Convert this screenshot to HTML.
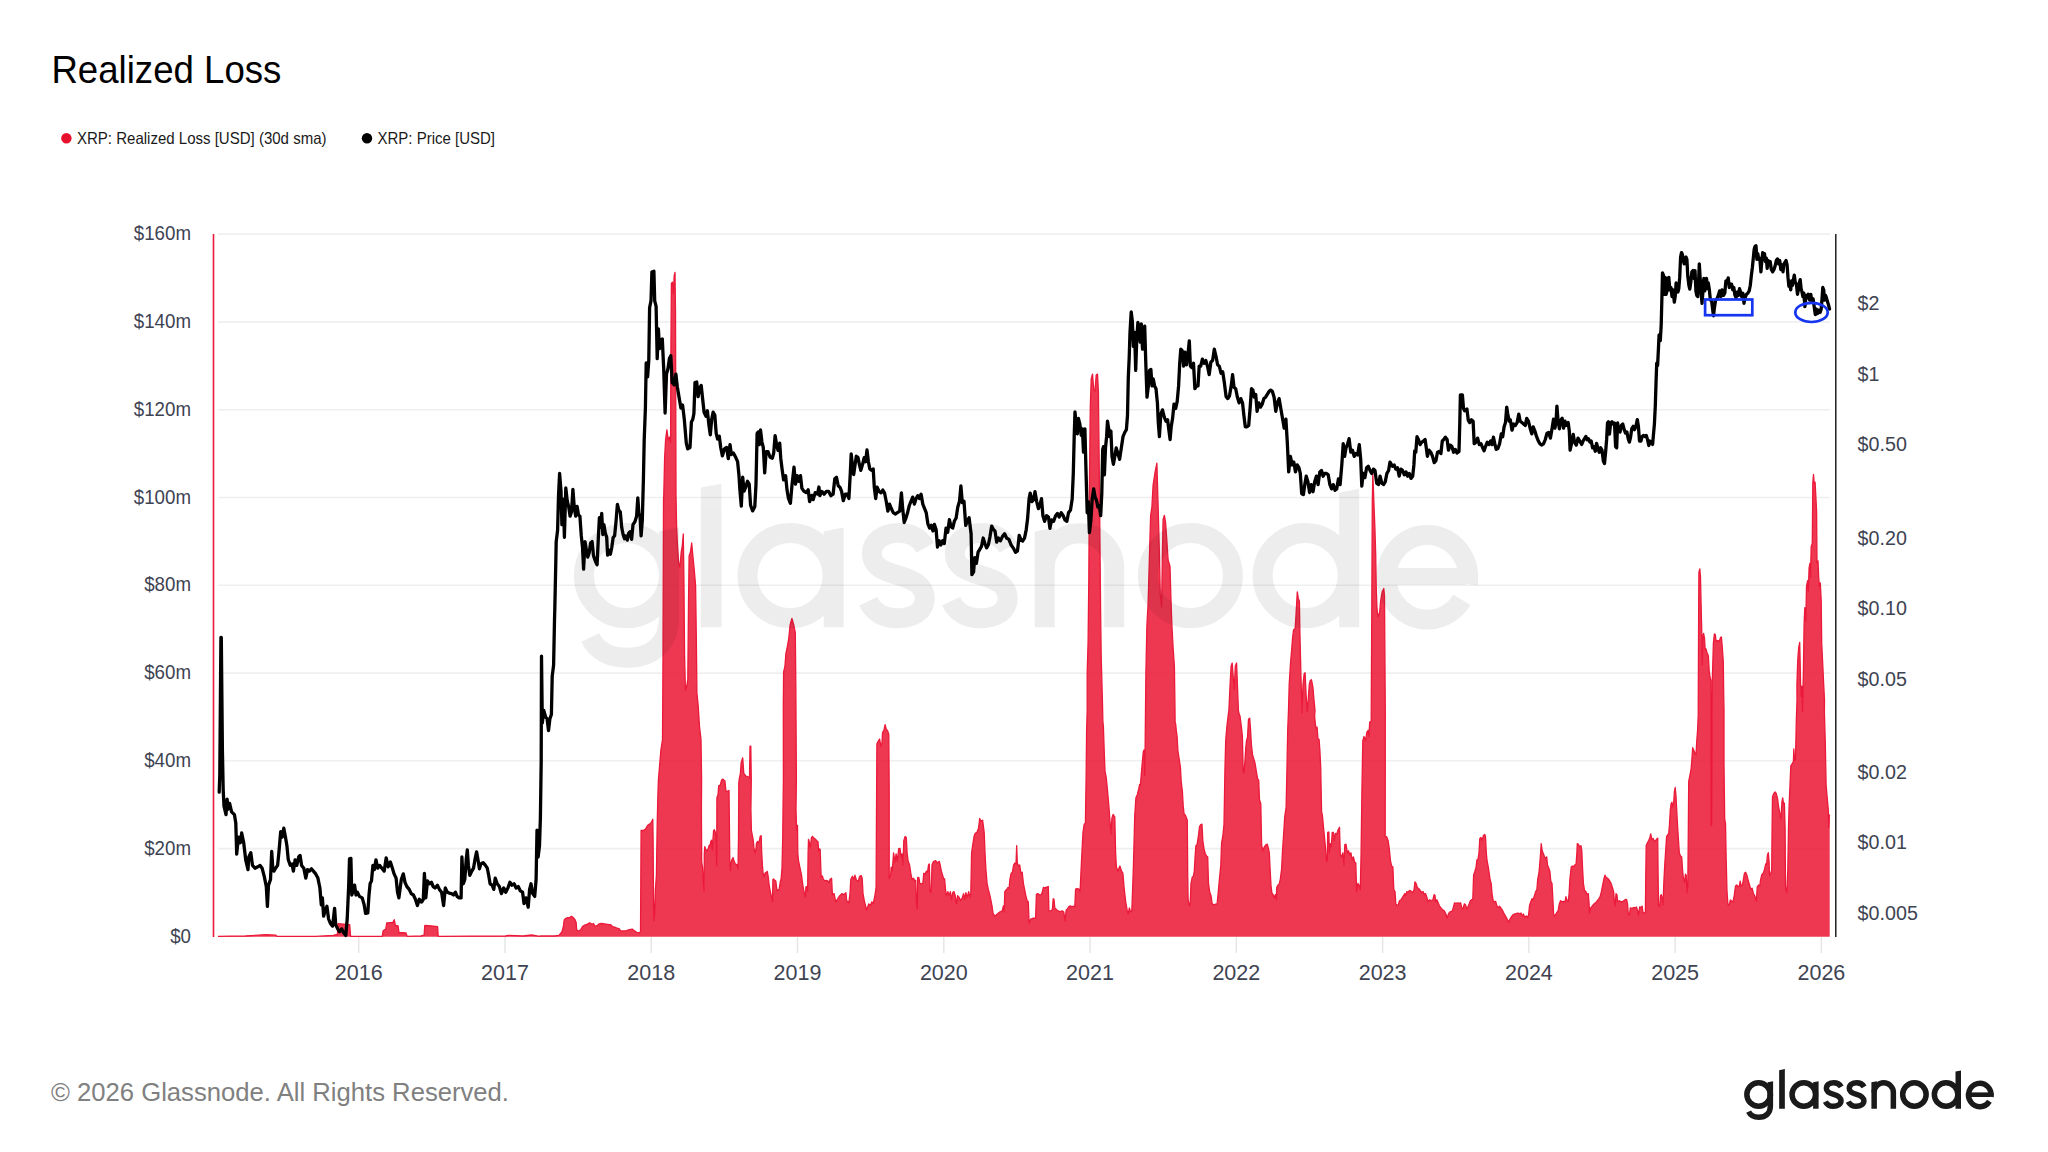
<!DOCTYPE html>
<html><head><meta charset="utf-8"><title>Realized Loss</title>
<style>
html,body{margin:0;padding:0;background:#fff;}
body{width:2048px;height:1152px;overflow:hidden;position:relative;font-family:"Liberation Sans",sans-serif;}
svg{position:absolute;left:0;top:0;}
text{font-family:"Liberation Sans",sans-serif;}
.ax text{font-size:20px;fill:#3e4352;}
.ax text.r{letter-spacing:0.3px;}
.ax text.l{letter-spacing:0.15px;}
.ax text.xl{font-size:21.5px;}
</style></head><body>
<svg width="2048" height="1152" viewBox="0 0 2048 1152">
<defs><g id="gl">
<g fill="none" stroke-width="5.5">
<circle cx="1758.6" cy="1094.5" r="11.75"/>
<path d="M1770.35,1094L1770.35,1106C1770.35,1113.5 1765.5,1117.2 1758.8,1117.2C1753.8,1117.2 1750.3,1115.2 1748.6,1111.6"/>
<circle cx="1803.8" cy="1094.5" r="11.75"/>
<path d="M1841.2,1086.8C1839.5,1083.8 1836.8,1082.7 1833.8,1082.7C1829.5,1082.7 1826.4,1085 1826.4,1088.4C1826.4,1092 1829.5,1093.2 1833.6,1094.4C1838,1095.7 1841,1097.2 1841,1100.8C1841,1104.3 1837.8,1106.3 1833.4,1106.3C1829.6,1106.3 1826.8,1104.6 1825.4,1101.6"/>
<path d="M1841.2,1086.8C1839.5,1083.8 1836.8,1082.7 1833.8,1082.7C1829.5,1082.7 1826.4,1085 1826.4,1088.4C1826.4,1092 1829.5,1093.2 1833.6,1094.4C1838,1095.7 1841,1097.2 1841,1100.8C1841,1104.3 1837.8,1106.3 1833.4,1106.3C1829.6,1106.3 1826.8,1104.6 1825.4,1101.6" transform="translate(22.9,0)"/>
<path d="M1874.15,1092.4A9.6,9.6 0 0 1 1893.35,1092.4V1108.8"/>
<circle cx="1914.4" cy="1094.5" r="11.75"/>
<circle cx="1946.1" cy="1094.5" r="11.75"/>
<path d="M1968.3,1094.7H1990.5" stroke-width="4.6"/>
<path d="M1991.0,1096.8A11.3,11.7 0 1 0 1989.4,1101.2"/>
</g>
<g stroke="none">
<path d="M1767.6,1082.3L1773.1,1081.2V1096H1767.6Z"/>
<path d="M1779.15,1070.2L1784.85,1069.1V1108.8H1779.15Z"/>
<path d="M1813.1,1082.3L1818.6,1081.2V1108.8H1813.1Z"/>
<path d="M1871.4,1082.3L1876.9,1081.2V1108.8H1871.4Z"/>
<path d="M1955.5,1071.6L1961,1070.5V1108.8H1955.5Z"/>
</g>
</g></defs>
<text x="51.4" y="83.3" font-size="39.5" fill="#000" textLength="230" lengthAdjust="spacingAndGlyphs">Realized Loss</text>
<circle cx="66.4" cy="138.3" r="5.2" fill="#e8112d"/>
<text x="77" y="144.2" font-size="16.5" fill="#1a1a1a" textLength="249.5" lengthAdjust="spacingAndGlyphs">XRP: Realized Loss [USD] (30d sma)</text>
<circle cx="367" cy="138.3" r="5.2" fill="#000"/>
<text x="377.5" y="144.2" font-size="16.5" fill="#1a1a1a" textLength="117.5" lengthAdjust="spacingAndGlyphs">XRP: Price [USD]</text>
<g stroke="#efefef" stroke-width="1.6"><line x1="218" x2="1830" y1="234.1" y2="234.1"/><line x1="218" x2="1830" y1="321.9" y2="321.9"/><line x1="218" x2="1830" y1="409.7" y2="409.7"/><line x1="218" x2="1830" y1="497.5" y2="497.5"/><line x1="218" x2="1830" y1="585.3" y2="585.3"/><line x1="218" x2="1830" y1="673.1" y2="673.1"/><line x1="218" x2="1830" y1="760.8" y2="760.8"/><line x1="218" x2="1830" y1="848.6" y2="848.6"/></g>
<g class="ax"><text transform="translate(191,240.2) scale(0.935,1)" text-anchor="end">$160m</text><text transform="translate(191,328.0) scale(0.935,1)" text-anchor="end">$140m</text><text transform="translate(191,415.8) scale(0.935,1)" text-anchor="end">$120m</text><text transform="translate(191,503.6) scale(0.935,1)" text-anchor="end">$100m</text><text transform="translate(191,591.4) scale(0.935,1)" text-anchor="end">$80m</text><text transform="translate(191,679.2) scale(0.935,1)" text-anchor="end">$60m</text><text transform="translate(191,766.9) scale(0.935,1)" text-anchor="end">$40m</text><text transform="translate(191,854.7) scale(0.935,1)" text-anchor="end">$20m</text><text transform="translate(191,942.5) scale(0.935,1)" text-anchor="end">$0</text><text transform="translate(1857.6,310.4) scale(0.985,1)">$2</text><text transform="translate(1857.6,381.0) scale(0.985,1)">$1</text><text transform="translate(1857.6,451.4) scale(0.985,1)">$0.50</text><text transform="translate(1857.6,544.6) scale(0.985,1)">$0.20</text><text transform="translate(1857.6,615.0) scale(0.985,1)">$0.10</text><text transform="translate(1857.6,685.5) scale(0.985,1)">$0.05</text><text transform="translate(1857.6,778.6) scale(0.985,1)">$0.02</text><text transform="translate(1857.6,849.0) scale(0.985,1)">$0.01</text><text transform="translate(1857.6,919.5) scale(0.985,1)">$0.005</text><line x1="358.7" x2="358.7" y1="937" y2="953" stroke="#e6e6e6" stroke-width="1.5"/><text x="358.7" y="979.5" text-anchor="middle" class="xl">2016</text><line x1="505.0" x2="505.0" y1="937" y2="953" stroke="#e6e6e6" stroke-width="1.5"/><text x="505.0" y="979.5" text-anchor="middle" class="xl">2017</text><line x1="651.2" x2="651.2" y1="937" y2="953" stroke="#e6e6e6" stroke-width="1.5"/><text x="651.2" y="979.5" text-anchor="middle" class="xl">2018</text><line x1="797.5" x2="797.5" y1="937" y2="953" stroke="#e6e6e6" stroke-width="1.5"/><text x="797.5" y="979.5" text-anchor="middle" class="xl">2019</text><line x1="943.8" x2="943.8" y1="937" y2="953" stroke="#e6e6e6" stroke-width="1.5"/><text x="943.8" y="979.5" text-anchor="middle" class="xl">2020</text><line x1="1090.0" x2="1090.0" y1="937" y2="953" stroke="#e6e6e6" stroke-width="1.5"/><text x="1090.0" y="979.5" text-anchor="middle" class="xl">2021</text><line x1="1236.3" x2="1236.3" y1="937" y2="953" stroke="#e6e6e6" stroke-width="1.5"/><text x="1236.3" y="979.5" text-anchor="middle" class="xl">2022</text><line x1="1382.6" x2="1382.6" y1="937" y2="953" stroke="#e6e6e6" stroke-width="1.5"/><text x="1382.6" y="979.5" text-anchor="middle" class="xl">2023</text><line x1="1528.9" x2="1528.9" y1="937" y2="953" stroke="#e6e6e6" stroke-width="1.5"/><text x="1528.9" y="979.5" text-anchor="middle" class="xl">2024</text><line x1="1675.1" x2="1675.1" y1="937" y2="953" stroke="#e6e6e6" stroke-width="1.5"/><text x="1675.1" y="979.5" text-anchor="middle" class="xl">2025</text><line x1="1821.4" x2="1821.4" y1="937" y2="953" stroke="#e6e6e6" stroke-width="1.5"/><text x="1821.4" y="979.5" text-anchor="middle" class="xl">2026</text></g>
<path d="M217.9,936.8 L217.9,936.4 L245.2,936 L266.2,934.6 L275.9,935.2 L276.8,936.4 L315.5,936.4 L333,935.3 L337.4,934.5 L338,923.7 L349.7,924.6 L350.6,936.4 L382.3,936.4 L383.1,930.8 L385.8,929 L386.7,922.9 L392.8,922.5 L394.2,919.7 L395.4,925.5 L398.1,926 L399,932.5 L406,933 L407.2,936.4 L420.9,936 L424.1,935.2 L424.8,925.5 L431.5,926 L437.6,926.7 L438.2,936.4 L505.3,936 L508.8,935.3 L522.9,936 L531.7,935 L539.6,936.4 L540,936 L554.6,936 L559,935.3 L562,931.6 L563.4,926.5 L564.2,919.9 L565.6,918.4 L567.8,917.7 L569.3,917.7 L571.5,916.2 L573.4,917.7 L575.2,919.9 L576.2,922.8 L576.6,929.4 L577.8,930.9 L579.5,930.6 L581,929.4 L582.5,926.5 L584.7,925 L586.9,924.3 L589.8,922.8 L592,924.3 L593.5,923.5 L594.9,926.2 L597.1,925.7 L599.3,923.8 L601.5,923.5 L604.4,923.8 L607.4,924.3 L611,925 L612.5,926.5 L614.7,927.2 L616.9,928.2 L619.1,928.7 L620.6,930.9 L623.5,930.9 L626.4,930.6 L629.4,929.7 L632.3,929.1 L634.5,930.9 L636.7,932.3 L639.6,932.6 L640.5,931.6 L640.8,882.5 L641.1,830.5 L643.3,830.5 L645.5,829.1 L647.7,825.4 L649.9,823.9 L651.3,822.5 L652.8,819.3 L653.1,838.6 L653.5,897.2 L653.8,920.6 L654.5,916.2 L655.4,889.9 L656.4,875.2 L657.2,823.9 L657.9,794.6 L658.4,780 L660.9,750 L662.5,739.6 L663,656.2 L663.5,500 L663.8,494.4 L664.6,457.9 L665.6,439.7 L666.9,429.8 L668.2,439.7 L669.5,437.1 L670.6,442.3 L670.8,364.2 L671.4,283.4 L672.4,282.1 L673.4,293.9 L674.2,275.6 L675,272.5 L675.5,312.1 L675.8,416.2 L676,494.4 L676.6,526 L677.3,541.7 L678.6,562.5 L679.9,567.7 L681.2,552.1 L682.3,545.6 L683.3,533.9 L683.9,578.1 L684.6,656.2 L685.4,690.1 L686.5,687.5 L687.8,679.7 L688.5,604.2 L689.1,556 L690.4,552.1 L691.7,543 L693,557.3 L694.3,570.3 L695.6,585.9 L696.4,643.2 L696.9,692.7 L698.2,705.7 L699.5,726.6 L701,739.6 L701.6,779.9 L701.4,809.3 L701.7,862 L702.6,867.9 L703.3,882.5 L704.1,891.3 L704.3,853.2 L704.8,846.6 L705.5,848.8 L707,851 L708.2,848.8 L709.2,845.2 L709.9,846.6 L710.6,842.3 L711.4,840.1 L712.3,850.3 L712.8,841.5 L713.6,830.5 L714.3,829.8 L715.3,832 L716.2,841.5 L716.7,865.7 L716.9,797.6 L718,794.6 L718.7,785.9 L720.2,785.1 L721.6,780 L722.7,779.1 L723.8,780 L724.9,780.7 L726,791.7 L727.5,791 L729,790.5 L729.4,823.9 L729.8,862 L730.4,870.8 L731.2,862 L731.9,859.8 L733.1,857.6 L734.1,861.3 L735.5,864.2 L737,864.7 L738,868.6 L738.5,838.6 L738.8,782.9 L739.3,778.6 L740.4,773.4 L741.1,763 L742.7,757.8 L743.8,773.4 L745.8,776 L747.9,776.6 L749.5,778.1 L750,746.1 L750.8,746.1 L751.3,779.9 L750.9,809.3 L751.4,830.5 L752.4,835.7 L753.1,839.3 L753.9,847.4 L755,853.2 L755.8,850.3 L756.5,843 L757.5,841.5 L758.3,843 L759.3,840.8 L760.2,836.4 L761.2,835.7 L761.6,850.3 L762.4,865 L763.1,873.7 L764.1,876.7 L765.1,873 L766.3,872.3 L767.3,871.5 L768.2,876.7 L769.2,885.5 L770.3,891.3 L771.4,896.4 L772.5,901.6 L772.9,879.6 L773.6,878.9 L774.8,880.3 L775.8,881.1 L777,890.6 L778,889.9 L779.1,889.6 L780.2,882.5 L781.2,878.1 L782,867.9 L782.7,838.6 L783.2,794.6 L783.4,780 L783.3,708.3 L783.6,671.9 L784.9,666.7 L785.9,653.6 L787.5,645.8 L788.8,638 L790.1,625 L791.9,618.5 L793.8,625 L795.3,632.8 L795.8,682.3 L796.4,779.9 L796,809.3 L796.6,830.5 L797.5,825.4 L797.8,853.2 L798.5,860.6 L800,867.9 L801.5,875.2 L802.9,885.5 L804.4,893.5 L805.4,897.2 L805.9,886.9 L806.9,886.6 L807.6,891.3 L808.1,853.2 L808.5,839.3 L809.2,841.5 L810,848.1 L810.7,844.4 L811.4,837.9 L812.4,836.4 L813.9,837.9 L815.4,839.3 L816.8,840.8 L818,841.5 L818.6,851 L819.5,848.8 L820.2,849.6 L820.8,867.9 L821.2,877.4 L822.4,875.9 L823.4,879.6 L824.9,880.8 L826.4,880.3 L827.8,881.1 L829.3,882.5 L830,879.3 L831.6,878.3 L832.4,894.6 L834.1,893.6 L835.7,901.8 L837.8,898.7 L839.8,895.6 L841.8,893.6 L843.9,894.6 L845.9,892.6 L846.7,900.7 L848.8,902.8 L850,893.6 L850.8,879.3 L852.4,876.3 L854.1,879.3 L854.9,875.2 L856.5,880.3 L858.2,881.4 L859.6,876.3 L861.2,875.6 L862.2,878.3 L863,893.6 L864.7,902.8 L866.7,909.9 L868.8,903.8 L870.4,905.8 L871.8,901.8 L873.2,903.8 L874.9,895.6 L876.1,887.5 L876.5,812 L876.9,743.7 L878.6,740.6 L879.6,739 L881,746.7 L882,742.6 L882.6,732.4 L883.9,730.4 L885.1,724.7 L886.3,729.4 L887.5,730.4 L888.8,734.5 L889.2,791.6 L889.2,878.3 L890.6,875.2 L891.2,867.1 L892.2,871.2 L893.6,852.8 L894.9,862 L896.1,853.8 L897.3,861 L898.7,848.7 L900,848.3 L901,856.9 L902,853.8 L903,865 L903.8,840.6 L905.1,836.5 L906.3,837.5 L907.1,852.8 L908.1,861 L909.6,865 L910.8,873.2 L912,879.3 L913.6,878.3 L914.9,881.4 L915.7,880.3 L916.5,903.8 L917.3,908.9 L917.7,877.3 L918.9,877.7 L919.8,883.4 L921.4,883.8 L922.8,883.4 L923.8,873.2 L925.1,874.2 L926.3,871.2 L927.5,872.2 L928.5,865 L929.3,864 L930,891.6 L931.2,892.6 L932,865 L933.2,862 L934.4,861 L935.7,860.6 L936.9,863 L938.1,862 L939.3,861.4 L940.2,865 L941.4,871.2 L942.6,875.2 L943.8,879.3 L944.6,878.9 L945.5,889.5 L946.3,895.6 L947.9,891.6 L949.1,895.6 L950.4,891.6 L951.6,899.7 L952.8,892.6 L954,891.6 L955.3,895.6 L956.5,903.8 L957.7,895.6 L959.3,897.7 L960.6,900.7 L962.2,897.7 L963.6,893.6 L964.6,899.7 L965.9,892.6 L967.1,897.7 L968.7,891.6 L969.9,897.7 L970.8,893.6 L971.6,852.8 L972.8,844.6 L974,836.5 L975.2,833.4 L976.9,832.4 L978.5,828.3 L979.7,818.5 L981,821.2 L982.6,820.2 L983.4,826.3 L984.2,832.4 L985,852.8 L985.9,869.1 L987.1,883.4 L988.3,889.5 L989.5,893.6 L990.8,899.7 L992,905.8 L993.2,914 L995.2,916 L997.3,914 L999.7,912 L1002.2,910.9 L1003.4,905.8 L1004.2,912 L1004.8,891.6 L1006.5,889.5 L1007.9,887.5 L1009.1,888.5 L1009.9,879.3 L1011.2,873.2 L1012.4,872.2 L1013.6,865 L1014.8,863 L1016,864 L1016.7,845.7 L1017.3,863 L1018.5,866.1 L1019.7,865 L1020.9,873.2 L1022.2,872.2 L1023.4,883.4 L1024.6,889.5 L1025.8,895.6 L1027.1,900.7 L1028.3,901.8 L1029.1,923.2 L1030.7,919.1 L1032.4,918.5 L1034,918.1 L1035.6,918.1 L1036.4,894.6 L1037.7,893.6 L1039.3,894.6 L1040.9,895.2 L1042.2,892.6 L1043.4,887.5 L1045,887.9 L1046.6,887.1 L1048.3,886.5 L1048.9,910.9 L1050.7,910.9 L1052.4,909.9 L1053.2,898.7 L1054,899.3 L1054.8,907.9 L1056.4,909.5 L1058.1,910.9 L1060.1,911.6 L1062.2,910.9 L1063.8,912 L1065,921.1 L1066.2,909.9 L1067.5,908.9 L1068.7,906.9 L1070.3,905.8 L1071.9,906.9 L1073.6,906.2 L1074.8,906.9 L1075.6,889.1 L1077.2,888.5 L1078.9,889.1 L1080.1,891.6 L1080.9,873.2 L1082.1,848.7 L1083,832.4 L1084.2,824.2 L1085.4,823.2 L1086.2,771.2 L1086.6,730.4 L1087.2,710 L1087.2,672.5 L1088.1,641.2 L1088.8,578.8 L1089.4,485 L1090.3,406.9 L1091.2,378.8 L1092.5,374.1 L1093.8,389.7 L1095,391.2 L1096.2,375 L1097.5,374.1 L1098.4,391.2 L1099.1,453.8 L1100,547.5 L1100.6,610 L1101.2,656.9 L1102.5,703.8 L1102.9,722.2 L1103.4,726.3 L1104.2,750.8 L1105,771.2 L1106.2,777.3 L1107.4,789.6 L1108.7,803.8 L1109.9,820.2 L1111.1,834 L1111.9,818.1 L1113.1,814.4 L1114.8,817.1 L1115.6,852.8 L1116.4,867.1 L1118,871.2 L1119.7,866.1 L1120,866.1 L1121.6,871.2 L1122.9,873.2 L1124.1,887.5 L1125.7,901.8 L1127.3,910.9 L1128.2,914 L1129.4,907.9 L1130.6,912 L1131.8,910.9 L1132.6,889.5 L1133.5,863 L1134.3,832.4 L1134.7,816.1 L1135.9,797.7 L1137.3,794.7 L1138.8,788.5 L1139.6,784.5 L1140.4,785.5 L1141.2,775.3 L1142.4,761 L1143.3,751.8 L1144.1,749.8 L1144.7,775.3 L1145.1,750.8 L1145.5,710 L1145.9,672.5 L1146.9,625.6 L1148.1,603.8 L1149.7,547.5 L1150.6,516.2 L1151.9,506.9 L1153.1,485 L1155,472.5 L1156.9,463.1 L1157.5,485 L1158.4,516.2 L1159.4,553.8 L1160.3,594.4 L1161.6,606.9 L1162.5,547.5 L1163.1,519.4 L1164.4,515.3 L1165.6,522.5 L1166.9,541.2 L1168.1,560 L1170,566.2 L1170.9,597.5 L1171.9,625.6 L1173.1,647.5 L1174.4,666.2 L1175,710 L1175.1,722.2 L1175.7,724.3 L1176.3,730.4 L1177.1,736.5 L1177.9,750.8 L1179.2,759 L1180.4,767.1 L1181.2,781.4 L1182.4,791.6 L1183.2,805.9 L1184.1,814 L1185.3,815.1 L1186.5,818.1 L1187.3,820.2 L1187.7,873.2 L1188.1,899.7 L1189.4,905.8 L1190.2,903.8 L1191,883.4 L1192.2,877.3 L1193.4,876.3 L1194.3,871.2 L1195.1,856.9 L1195.9,845.7 L1197.1,844.6 L1198.3,836.5 L1199.6,826.3 L1200.8,824.6 L1202,824.2 L1202.8,840.6 L1204,848.7 L1205.3,853.8 L1206.5,855.9 L1207.7,856.9 L1208.5,883.4 L1209.8,892.6 L1211,895.6 L1212.2,903.8 L1213.8,904.8 L1215.5,904.2 L1217.1,903.8 L1218.3,891.6 L1219.6,877.3 L1220.8,865 L1221.6,842.6 L1222.8,836.5 L1224,824.2 L1224.9,771.2 L1225.7,740.6 L1226.9,726.3 L1228.1,716.1 L1228.9,710 L1230.1,684.4 L1231.1,666.1 L1232.2,663 L1233.2,676.6 L1234.3,689.6 L1235.3,666.1 L1236.6,663 L1237.4,684.4 L1238.4,710.4 L1239.1,714.1 L1240,716.1 L1240.8,722.2 L1241.6,728.4 L1242.4,736.5 L1243.2,771.2 L1244,773.2 L1244.8,763 L1245.7,748.8 L1246.5,740.6 L1247.5,737.5 L1248.5,719.2 L1249.7,718.2 L1250.6,730.4 L1251.4,744.7 L1252.6,754.9 L1253.8,759 L1255,763 L1256.3,771.2 L1257.5,778.3 L1258.7,780.4 L1259.5,799.8 L1260.8,803.8 L1261.6,844.6 L1262.8,850.8 L1264.4,846.7 L1266.1,844.6 L1267.3,844.2 L1268.5,848.7 L1269.3,852.8 L1270.1,869.1 L1271,885.4 L1271.8,892.6 L1273,894.6 L1274.2,897.7 L1275.4,894.6 L1276.3,899.7 L1276.7,887.5 L1277.9,885 L1279.1,884.4 L1280.3,879.3 L1281.6,869.1 L1282.4,852.8 L1283.2,840.6 L1284,828.3 L1284.8,816.1 L1286.1,807.9 L1286.9,771.2 L1287.7,730.4 L1288.5,710 L1289.2,684.4 L1290.5,663.5 L1291.6,650.5 L1292.6,637.5 L1293.6,629.7 L1295.2,628.4 L1296.2,611.5 L1297.3,591.9 L1298.3,598.4 L1299.4,601 L1299.9,632.3 L1300.9,674 L1302,713 L1303,684.4 L1304.1,674 L1305.1,672.7 L1306.1,694.8 L1307.2,711.7 L1308.2,700 L1309.3,684.4 L1310.3,680.5 L1311.4,679.7 L1312.9,687 L1314,700 L1315,710.4 L1314.6,716.1 L1315.4,724.3 L1316.2,728.4 L1317.1,727.3 L1317.9,738.6 L1319.1,739.6 L1319.9,750.8 L1320.7,767.1 L1321.6,812 L1322.4,815.1 L1323.2,824.2 L1324,832.4 L1324.8,840.6 L1325.6,848.7 L1326.4,861 L1327.3,861 L1327.7,832.4 L1328.9,832 L1329.3,852.8 L1330.1,843.6 L1331.3,846.7 L1332.2,832.4 L1333.4,832.4 L1334.2,840.6 L1335.4,833.4 L1336.6,834.4 L1337.9,830.4 L1339.5,827.3 L1340.3,854.8 L1341.5,856.9 L1342.8,852.8 L1344,865 L1344.8,844.6 L1346,844.2 L1347.3,852.8 L1348.5,850.8 L1349.7,854.8 L1350.9,852.8 L1352.2,859.9 L1353.4,856.9 L1354.6,862 L1355.8,863 L1356.6,891.6 L1357.9,883.4 L1359.1,885.4 L1360.3,889.5 L1361.1,852.8 L1361.9,791.6 L1362.8,740.6 L1364,736.5 L1365.6,740.6 L1366.8,732.4 L1368.1,730.4 L1368.9,736.5 L1369.7,722.2 L1370.9,721.2 L1371.2,720.8 L1371.8,606.2 L1372.3,502.1 L1372.8,473.4 L1373.9,502.1 L1374.9,528.1 L1375.7,554.2 L1376.2,585.4 L1377,608.9 L1378,616.7 L1379.6,612.8 L1380.6,601 L1382.2,591.9 L1383.8,588.5 L1384.5,595.8 L1385.1,684.4 L1385.3,709.9 L1385.2,836.5 L1386.8,836.9 L1388.1,840.6 L1389.3,848.7 L1390.5,861 L1391.7,866.1 L1392.9,867.1 L1393.8,889.5 L1395,891.6 L1395.8,903.8 L1397,905.4 L1398.3,904.8 L1399.5,900.7 L1401.1,899.7 L1402.3,897.7 L1403.6,895.6 L1404.8,893.6 L1405.6,895.6 L1406.8,891.6 L1408,892.6 L1409.3,890.5 L1410,890.5 L1411.6,891.6 L1412.9,892.6 L1414.1,889.5 L1414.9,881.8 L1416.1,883.4 L1417.3,887.5 L1418.6,888.5 L1420.2,890.5 L1421.8,892.6 L1423.1,891.6 L1424.3,894.6 L1425.5,893.6 L1426.7,896.7 L1428,901.8 L1429.6,899.7 L1431.2,900.7 L1432.8,900.1 L1434.1,894.6 L1434.9,895.2 L1435.7,901.8 L1436.9,899.7 L1438.2,902.8 L1439.4,905.8 L1441,907.9 L1442.6,909.9 L1444.3,910.9 L1445.9,914 L1447.1,918.1 L1448.4,914 L1449.6,912 L1450.8,911.6 L1452.4,910.9 L1453.7,905.8 L1454.5,902.8 L1456.1,903.4 L1457.7,902.8 L1459.4,903.4 L1460.6,902.8 L1461.8,907.9 L1463,908.9 L1464.3,903.8 L1465.5,904.8 L1466.7,908.9 L1467.9,906.9 L1469.2,903.8 L1470.4,900.7 L1471.6,899.7 L1472.8,899.3 L1473.6,875.2 L1474.9,871.2 L1476.1,867.1 L1476.9,859.9 L1478.1,858.9 L1479,852.8 L1479.8,838.5 L1481,837.5 L1482.2,840.6 L1483.4,835.5 L1484.7,834.4 L1485.5,836.5 L1486.3,852.8 L1487.1,861 L1488.3,867.1 L1489.2,873.2 L1490,879.3 L1491.2,883.4 L1492,893.6 L1493.2,900.7 L1494.5,901.8 L1495.7,901.4 L1496.9,905.8 L1498.1,907.9 L1499.4,906.2 L1500.6,907.5 L1502.2,909.9 L1503.8,913 L1505.5,916 L1507.1,919.1 L1508.7,922.2 L1510,919.1 L1511.2,917.1 L1512.8,915 L1514.4,914 L1516.1,913.6 L1517.7,913 L1519.3,913.6 L1521,913 L1522.2,916 L1523.4,914 L1524.6,917.1 L1526.3,916 L1527.9,917.7 L1528.7,914 L1529.5,905.8 L1530.8,901.8 L1532,898.7 L1533.2,899.7 L1534.4,895.6 L1535.7,891.6 L1536.9,889.5 L1537.7,879.3 L1538.9,873.2 L1539.7,865 L1540.6,852.8 L1541.2,843.6 L1542.2,850.8 L1543.4,853.8 L1544.6,856.9 L1545.9,858.5 L1546.7,856.9 L1547.5,865 L1548.7,868.1 L1549.9,871.2 L1550.8,881.4 L1552,883.4 L1552.8,897.7 L1553.6,914 L1554.8,916 L1556.5,913 L1558.1,910.9 L1559.3,903.8 L1560.6,900.7 L1561.8,901.8 L1563.4,901.4 L1565,902.2 L1565.9,896.7 L1567.1,900.7 L1568.3,901.4 L1569.1,893.6 L1569.9,879.3 L1571.2,867.1 L1572.4,866.1 L1573.6,866.7 L1574.8,865 L1576.1,864 L1576.9,852.8 L1577.3,843.6 L1578.5,844.6 L1579.7,846.7 L1581,845.7 L1581.8,850.8 L1582.6,869.1 L1583.4,883.4 L1584.6,890.5 L1585.8,891.6 L1587.1,894.6 L1588.3,893.6 L1589.1,903.8 L1589.5,913 L1590.7,907.9 L1592.4,905.8 L1594,903.8 L1595.6,902.8 L1597.3,900.7 L1598.9,898.7 L1600.1,896.7 L1601.4,891.6 L1602.6,885.4 L1603.8,879.3 L1605,875.2 L1606.2,877.3 L1607.5,878.3 L1608.7,879.3 L1609.9,881.4 L1611.1,883.4 L1612.4,887.5 L1613.6,891.6 L1614.4,901.8 L1615.2,905.8 L1616,893.6 L1616.9,894.6 L1617.7,901.8 L1619.3,900.7 L1620.9,901.8 L1622.6,901.4 L1624.2,900.7 L1625.4,899.3 L1626.6,899.7 L1627.5,903.8 L1628.3,914 L1629.5,915 L1630.3,907.9 L1632,908.3 L1633.6,907.5 L1635.2,907.9 L1636.4,906.9 L1637.7,910.9 L1638.5,915 L1639.7,906.9 L1640.9,907.5 L1642.2,906.2 L1643,913 L1644.6,913 L1645.4,912 L1645.8,873.2 L1646.2,845.7 L1647.5,842.6 L1648.7,840.6 L1649.9,837.5 L1650.7,834 L1651.9,839.5 L1653.2,838.5 L1654.4,841.6 L1655.6,840.6 L1656.8,838.9 L1657.7,838.1 L1658.1,873.2 L1658.5,905.8 L1659.7,906.2 L1660.5,895.6 L1661.3,894.6 L1662.1,897.7 L1663,904.8 L1663.8,883.4 L1664.6,867.1 L1665.8,848.7 L1666.6,836.5 L1667.9,834.4 L1668.7,834 L1669.5,824.2 L1670.3,810 L1671.1,803.8 L1671.9,802.2 L1672.7,806.9 L1673.6,803.8 L1674.4,791.6 L1675.2,787.5 L1676,795.7 L1676.8,812 L1677.6,826.3 L1678.5,840.6 L1679.3,852.8 L1680.5,855.9 L1681.7,856.9 L1682.5,869.1 L1683.4,878.3 L1684.6,882.4 L1685.4,874.2 L1686.2,875.2 L1687,892.6 L1687.8,885.4 L1688.3,832.4 L1688.7,781.4 L1689.9,775.3 L1691.1,769.2 L1691.9,759 L1692.7,747.7 L1694,750.8 L1695.2,753.9 L1696,754.9 L1696.8,740.6 L1697.6,730.4 L1698.2,716.1 L1698.4,670.9 L1698.7,600.6 L1698.9,572.5 L1699.8,569 L1700.5,577.2 L1701,600.6 L1701.7,628.7 L1702.2,665.1 L1702.9,635.8 L1703.6,633.4 L1704.5,638.1 L1705.2,649.8 L1705.9,648.7 L1706.9,652.2 L1708.3,655.7 L1709.2,670.9 L1710.2,678 L1710.9,680.3 L1711.1,825.6 L1711.6,825.6 L1712.3,680.3 L1713.4,642.8 L1714.4,633.9 L1715.3,634.6 L1716.2,641.6 L1717.7,640.5 L1719.1,641.6 L1720.5,637.6 L1721.4,636.9 L1722.3,647.5 L1723.3,661.5 L1723.7,694.4 L1724,710.1 L1724,763.8 L1724.7,819.1 L1725.5,823.4 L1726.2,859.5 L1727,891.4 L1727.9,904.2 L1729.1,905.2 L1730.4,899.9 L1731.7,901 L1733,902 L1734.2,895.7 L1735.5,886.1 L1736.8,885 L1738.1,886.7 L1739.3,886.1 L1740.2,881.2 L1741,886.1 L1742.3,885 L1743.2,880.8 L1744.4,873.3 L1745.7,872.3 L1747,875.5 L1748.3,880.8 L1749.5,885 L1750.8,889.3 L1752.1,888.2 L1753.4,893.5 L1754.7,895.7 L1756.4,901 L1757.2,887.2 L1758.5,885 L1759.8,886.1 L1760.6,879.7 L1761.9,874.4 L1763.2,873.3 L1764.4,870.1 L1765.7,863.8 L1766.6,864.8 L1767.4,855.3 L1768.3,852.7 L1769.1,861.6 L1769.5,875.5 L1770.8,873.3 L1771.7,870.1 L1772.1,827.6 L1772.5,796.8 L1773.8,793.6 L1775.1,791.9 L1776.3,793.6 L1777.6,798.9 L1778.5,806.3 L1779.7,812.7 L1781,819.1 L1781.9,802.1 L1782.7,797.8 L1783.6,804.2 L1784.4,803.1 L1785.1,827.6 L1785.5,887.2 L1786.8,892.5 L1787.8,870.1 L1788.5,827.6 L1789.1,806.3 L1790,785.1 L1790.8,765.9 L1792.1,763.8 L1793.4,761.7 L1793.8,748.9 L1794.6,760.6 L1795.5,759.5 L1796.3,721.3 L1797,700 L1796.9,685 L1797.8,659.2 L1798.7,647.5 L1799.7,642.3 L1800.1,659.2 L1800.6,685 L1801.3,696.7 L1802,686.2 L1802.5,711.9 L1803.4,670.9 L1804.1,624 L1804.8,607.6 L1805.8,621.7 L1806.5,586.6 L1807.6,580.7 L1808.3,591.2 L1809.1,567.8 L1810,563.1 L1810.5,577.2 L1811.2,546.7 L1812.3,543.2 L1812.8,483.4 L1813.5,474.5 L1814.2,483.4 L1815.1,482.3 L1815.8,495.2 L1816.6,511.6 L1817,563.1 L1818,560.8 L1818.7,577.2 L1819.4,586.6 L1820.3,583 L1821.2,600.6 L1821.7,642.8 L1822.6,661.5 L1823.6,682.6 L1824.5,700 L1824.4,712.8 L1825.3,742.5 L1826.1,785.1 L1827.4,800 L1828.2,808.5 L1828.7,827.6 L1829.3,814.8 L1829.7,815.9 L1829.7,936.8Z" fill="#eb1432" fill-opacity="0.85" stroke="none"/>
<path d="M217.9,936.4 L245.2,936 L266.2,934.6 L275.9,935.2 L276.8,936.4 L315.5,936.4 L333,935.3 L337.4,934.5 L338,923.7 L349.7,924.6 L350.6,936.4 L382.3,936.4 L383.1,930.8 L385.8,929 L386.7,922.9 L392.8,922.5 L394.2,919.7 L395.4,925.5 L398.1,926 L399,932.5 L406,933 L407.2,936.4 L420.9,936 L424.1,935.2 L424.8,925.5 L431.5,926 L437.6,926.7 L438.2,936.4 L505.3,936 L508.8,935.3 L522.9,936 L531.7,935 L539.6,936.4 L540,936 L554.6,936 L559,935.3 L562,931.6 L563.4,926.5 L564.2,919.9 L565.6,918.4 L567.8,917.7 L569.3,917.7 L571.5,916.2 L573.4,917.7 L575.2,919.9 L576.2,922.8 L576.6,929.4 L577.8,930.9 L579.5,930.6 L581,929.4 L582.5,926.5 L584.7,925 L586.9,924.3 L589.8,922.8 L592,924.3 L593.5,923.5 L594.9,926.2 L597.1,925.7 L599.3,923.8 L601.5,923.5 L604.4,923.8 L607.4,924.3 L611,925 L612.5,926.5 L614.7,927.2 L616.9,928.2 L619.1,928.7 L620.6,930.9 L623.5,930.9 L626.4,930.6 L629.4,929.7 L632.3,929.1 L634.5,930.9 L636.7,932.3 L639.6,932.6 L640.5,931.6 L640.8,882.5 L641.1,830.5 L643.3,830.5 L645.5,829.1 L647.7,825.4 L649.9,823.9 L651.3,822.5 L652.8,819.3 L653.1,838.6 L653.5,897.2 L653.8,920.6 L654.5,916.2 L655.4,889.9 L656.4,875.2 L657.2,823.9 L657.9,794.6 L658.4,780 L660.9,750 L662.5,739.6 L663,656.2 L663.5,500 L663.8,494.4 L664.6,457.9 L665.6,439.7 L666.9,429.8 L668.2,439.7 L669.5,437.1 L670.6,442.3 L670.8,364.2 L671.4,283.4 L672.4,282.1 L673.4,293.9 L674.2,275.6 L675,272.5 L675.5,312.1 L675.8,416.2 L676,494.4 L676.6,526 L677.3,541.7 L678.6,562.5 L679.9,567.7 L681.2,552.1 L682.3,545.6 L683.3,533.9 L683.9,578.1 L684.6,656.2 L685.4,690.1 L686.5,687.5 L687.8,679.7 L688.5,604.2 L689.1,556 L690.4,552.1 L691.7,543 L693,557.3 L694.3,570.3 L695.6,585.9 L696.4,643.2 L696.9,692.7 L698.2,705.7 L699.5,726.6 L701,739.6 L701.6,779.9 L701.4,809.3 L701.7,862 L702.6,867.9 L703.3,882.5 L704.1,891.3 L704.3,853.2 L704.8,846.6 L705.5,848.8 L707,851 L708.2,848.8 L709.2,845.2 L709.9,846.6 L710.6,842.3 L711.4,840.1 L712.3,850.3 L712.8,841.5 L713.6,830.5 L714.3,829.8 L715.3,832 L716.2,841.5 L716.7,865.7 L716.9,797.6 L718,794.6 L718.7,785.9 L720.2,785.1 L721.6,780 L722.7,779.1 L723.8,780 L724.9,780.7 L726,791.7 L727.5,791 L729,790.5 L729.4,823.9 L729.8,862 L730.4,870.8 L731.2,862 L731.9,859.8 L733.1,857.6 L734.1,861.3 L735.5,864.2 L737,864.7 L738,868.6 L738.5,838.6 L738.8,782.9 L739.3,778.6 L740.4,773.4 L741.1,763 L742.7,757.8 L743.8,773.4 L745.8,776 L747.9,776.6 L749.5,778.1 L750,746.1 L750.8,746.1 L751.3,779.9 L750.9,809.3 L751.4,830.5 L752.4,835.7 L753.1,839.3 L753.9,847.4 L755,853.2 L755.8,850.3 L756.5,843 L757.5,841.5 L758.3,843 L759.3,840.8 L760.2,836.4 L761.2,835.7 L761.6,850.3 L762.4,865 L763.1,873.7 L764.1,876.7 L765.1,873 L766.3,872.3 L767.3,871.5 L768.2,876.7 L769.2,885.5 L770.3,891.3 L771.4,896.4 L772.5,901.6 L772.9,879.6 L773.6,878.9 L774.8,880.3 L775.8,881.1 L777,890.6 L778,889.9 L779.1,889.6 L780.2,882.5 L781.2,878.1 L782,867.9 L782.7,838.6 L783.2,794.6 L783.4,780 L783.3,708.3 L783.6,671.9 L784.9,666.7 L785.9,653.6 L787.5,645.8 L788.8,638 L790.1,625 L791.9,618.5 L793.8,625 L795.3,632.8 L795.8,682.3 L796.4,779.9 L796,809.3 L796.6,830.5 L797.5,825.4 L797.8,853.2 L798.5,860.6 L800,867.9 L801.5,875.2 L802.9,885.5 L804.4,893.5 L805.4,897.2 L805.9,886.9 L806.9,886.6 L807.6,891.3 L808.1,853.2 L808.5,839.3 L809.2,841.5 L810,848.1 L810.7,844.4 L811.4,837.9 L812.4,836.4 L813.9,837.9 L815.4,839.3 L816.8,840.8 L818,841.5 L818.6,851 L819.5,848.8 L820.2,849.6 L820.8,867.9 L821.2,877.4 L822.4,875.9 L823.4,879.6 L824.9,880.8 L826.4,880.3 L827.8,881.1 L829.3,882.5 L830,879.3 L831.6,878.3 L832.4,894.6 L834.1,893.6 L835.7,901.8 L837.8,898.7 L839.8,895.6 L841.8,893.6 L843.9,894.6 L845.9,892.6 L846.7,900.7 L848.8,902.8 L850,893.6 L850.8,879.3 L852.4,876.3 L854.1,879.3 L854.9,875.2 L856.5,880.3 L858.2,881.4 L859.6,876.3 L861.2,875.6 L862.2,878.3 L863,893.6 L864.7,902.8 L866.7,909.9 L868.8,903.8 L870.4,905.8 L871.8,901.8 L873.2,903.8 L874.9,895.6 L876.1,887.5 L876.5,812 L876.9,743.7 L878.6,740.6 L879.6,739 L881,746.7 L882,742.6 L882.6,732.4 L883.9,730.4 L885.1,724.7 L886.3,729.4 L887.5,730.4 L888.8,734.5 L889.2,791.6 L889.2,878.3 L890.6,875.2 L891.2,867.1 L892.2,871.2 L893.6,852.8 L894.9,862 L896.1,853.8 L897.3,861 L898.7,848.7 L900,848.3 L901,856.9 L902,853.8 L903,865 L903.8,840.6 L905.1,836.5 L906.3,837.5 L907.1,852.8 L908.1,861 L909.6,865 L910.8,873.2 L912,879.3 L913.6,878.3 L914.9,881.4 L915.7,880.3 L916.5,903.8 L917.3,908.9 L917.7,877.3 L918.9,877.7 L919.8,883.4 L921.4,883.8 L922.8,883.4 L923.8,873.2 L925.1,874.2 L926.3,871.2 L927.5,872.2 L928.5,865 L929.3,864 L930,891.6 L931.2,892.6 L932,865 L933.2,862 L934.4,861 L935.7,860.6 L936.9,863 L938.1,862 L939.3,861.4 L940.2,865 L941.4,871.2 L942.6,875.2 L943.8,879.3 L944.6,878.9 L945.5,889.5 L946.3,895.6 L947.9,891.6 L949.1,895.6 L950.4,891.6 L951.6,899.7 L952.8,892.6 L954,891.6 L955.3,895.6 L956.5,903.8 L957.7,895.6 L959.3,897.7 L960.6,900.7 L962.2,897.7 L963.6,893.6 L964.6,899.7 L965.9,892.6 L967.1,897.7 L968.7,891.6 L969.9,897.7 L970.8,893.6 L971.6,852.8 L972.8,844.6 L974,836.5 L975.2,833.4 L976.9,832.4 L978.5,828.3 L979.7,818.5 L981,821.2 L982.6,820.2 L983.4,826.3 L984.2,832.4 L985,852.8 L985.9,869.1 L987.1,883.4 L988.3,889.5 L989.5,893.6 L990.8,899.7 L992,905.8 L993.2,914 L995.2,916 L997.3,914 L999.7,912 L1002.2,910.9 L1003.4,905.8 L1004.2,912 L1004.8,891.6 L1006.5,889.5 L1007.9,887.5 L1009.1,888.5 L1009.9,879.3 L1011.2,873.2 L1012.4,872.2 L1013.6,865 L1014.8,863 L1016,864 L1016.7,845.7 L1017.3,863 L1018.5,866.1 L1019.7,865 L1020.9,873.2 L1022.2,872.2 L1023.4,883.4 L1024.6,889.5 L1025.8,895.6 L1027.1,900.7 L1028.3,901.8 L1029.1,923.2 L1030.7,919.1 L1032.4,918.5 L1034,918.1 L1035.6,918.1 L1036.4,894.6 L1037.7,893.6 L1039.3,894.6 L1040.9,895.2 L1042.2,892.6 L1043.4,887.5 L1045,887.9 L1046.6,887.1 L1048.3,886.5 L1048.9,910.9 L1050.7,910.9 L1052.4,909.9 L1053.2,898.7 L1054,899.3 L1054.8,907.9 L1056.4,909.5 L1058.1,910.9 L1060.1,911.6 L1062.2,910.9 L1063.8,912 L1065,921.1 L1066.2,909.9 L1067.5,908.9 L1068.7,906.9 L1070.3,905.8 L1071.9,906.9 L1073.6,906.2 L1074.8,906.9 L1075.6,889.1 L1077.2,888.5 L1078.9,889.1 L1080.1,891.6 L1080.9,873.2 L1082.1,848.7 L1083,832.4 L1084.2,824.2 L1085.4,823.2 L1086.2,771.2 L1086.6,730.4 L1087.2,710 L1087.2,672.5 L1088.1,641.2 L1088.8,578.8 L1089.4,485 L1090.3,406.9 L1091.2,378.8 L1092.5,374.1 L1093.8,389.7 L1095,391.2 L1096.2,375 L1097.5,374.1 L1098.4,391.2 L1099.1,453.8 L1100,547.5 L1100.6,610 L1101.2,656.9 L1102.5,703.8 L1102.9,722.2 L1103.4,726.3 L1104.2,750.8 L1105,771.2 L1106.2,777.3 L1107.4,789.6 L1108.7,803.8 L1109.9,820.2 L1111.1,834 L1111.9,818.1 L1113.1,814.4 L1114.8,817.1 L1115.6,852.8 L1116.4,867.1 L1118,871.2 L1119.7,866.1 L1120,866.1 L1121.6,871.2 L1122.9,873.2 L1124.1,887.5 L1125.7,901.8 L1127.3,910.9 L1128.2,914 L1129.4,907.9 L1130.6,912 L1131.8,910.9 L1132.6,889.5 L1133.5,863 L1134.3,832.4 L1134.7,816.1 L1135.9,797.7 L1137.3,794.7 L1138.8,788.5 L1139.6,784.5 L1140.4,785.5 L1141.2,775.3 L1142.4,761 L1143.3,751.8 L1144.1,749.8 L1144.7,775.3 L1145.1,750.8 L1145.5,710 L1145.9,672.5 L1146.9,625.6 L1148.1,603.8 L1149.7,547.5 L1150.6,516.2 L1151.9,506.9 L1153.1,485 L1155,472.5 L1156.9,463.1 L1157.5,485 L1158.4,516.2 L1159.4,553.8 L1160.3,594.4 L1161.6,606.9 L1162.5,547.5 L1163.1,519.4 L1164.4,515.3 L1165.6,522.5 L1166.9,541.2 L1168.1,560 L1170,566.2 L1170.9,597.5 L1171.9,625.6 L1173.1,647.5 L1174.4,666.2 L1175,710 L1175.1,722.2 L1175.7,724.3 L1176.3,730.4 L1177.1,736.5 L1177.9,750.8 L1179.2,759 L1180.4,767.1 L1181.2,781.4 L1182.4,791.6 L1183.2,805.9 L1184.1,814 L1185.3,815.1 L1186.5,818.1 L1187.3,820.2 L1187.7,873.2 L1188.1,899.7 L1189.4,905.8 L1190.2,903.8 L1191,883.4 L1192.2,877.3 L1193.4,876.3 L1194.3,871.2 L1195.1,856.9 L1195.9,845.7 L1197.1,844.6 L1198.3,836.5 L1199.6,826.3 L1200.8,824.6 L1202,824.2 L1202.8,840.6 L1204,848.7 L1205.3,853.8 L1206.5,855.9 L1207.7,856.9 L1208.5,883.4 L1209.8,892.6 L1211,895.6 L1212.2,903.8 L1213.8,904.8 L1215.5,904.2 L1217.1,903.8 L1218.3,891.6 L1219.6,877.3 L1220.8,865 L1221.6,842.6 L1222.8,836.5 L1224,824.2 L1224.9,771.2 L1225.7,740.6 L1226.9,726.3 L1228.1,716.1 L1228.9,710 L1230.1,684.4 L1231.1,666.1 L1232.2,663 L1233.2,676.6 L1234.3,689.6 L1235.3,666.1 L1236.6,663 L1237.4,684.4 L1238.4,710.4 L1239.1,714.1 L1240,716.1 L1240.8,722.2 L1241.6,728.4 L1242.4,736.5 L1243.2,771.2 L1244,773.2 L1244.8,763 L1245.7,748.8 L1246.5,740.6 L1247.5,737.5 L1248.5,719.2 L1249.7,718.2 L1250.6,730.4 L1251.4,744.7 L1252.6,754.9 L1253.8,759 L1255,763 L1256.3,771.2 L1257.5,778.3 L1258.7,780.4 L1259.5,799.8 L1260.8,803.8 L1261.6,844.6 L1262.8,850.8 L1264.4,846.7 L1266.1,844.6 L1267.3,844.2 L1268.5,848.7 L1269.3,852.8 L1270.1,869.1 L1271,885.4 L1271.8,892.6 L1273,894.6 L1274.2,897.7 L1275.4,894.6 L1276.3,899.7 L1276.7,887.5 L1277.9,885 L1279.1,884.4 L1280.3,879.3 L1281.6,869.1 L1282.4,852.8 L1283.2,840.6 L1284,828.3 L1284.8,816.1 L1286.1,807.9 L1286.9,771.2 L1287.7,730.4 L1288.5,710 L1289.2,684.4 L1290.5,663.5 L1291.6,650.5 L1292.6,637.5 L1293.6,629.7 L1295.2,628.4 L1296.2,611.5 L1297.3,591.9 L1298.3,598.4 L1299.4,601 L1299.9,632.3 L1300.9,674 L1302,713 L1303,684.4 L1304.1,674 L1305.1,672.7 L1306.1,694.8 L1307.2,711.7 L1308.2,700 L1309.3,684.4 L1310.3,680.5 L1311.4,679.7 L1312.9,687 L1314,700 L1315,710.4 L1314.6,716.1 L1315.4,724.3 L1316.2,728.4 L1317.1,727.3 L1317.9,738.6 L1319.1,739.6 L1319.9,750.8 L1320.7,767.1 L1321.6,812 L1322.4,815.1 L1323.2,824.2 L1324,832.4 L1324.8,840.6 L1325.6,848.7 L1326.4,861 L1327.3,861 L1327.7,832.4 L1328.9,832 L1329.3,852.8 L1330.1,843.6 L1331.3,846.7 L1332.2,832.4 L1333.4,832.4 L1334.2,840.6 L1335.4,833.4 L1336.6,834.4 L1337.9,830.4 L1339.5,827.3 L1340.3,854.8 L1341.5,856.9 L1342.8,852.8 L1344,865 L1344.8,844.6 L1346,844.2 L1347.3,852.8 L1348.5,850.8 L1349.7,854.8 L1350.9,852.8 L1352.2,859.9 L1353.4,856.9 L1354.6,862 L1355.8,863 L1356.6,891.6 L1357.9,883.4 L1359.1,885.4 L1360.3,889.5 L1361.1,852.8 L1361.9,791.6 L1362.8,740.6 L1364,736.5 L1365.6,740.6 L1366.8,732.4 L1368.1,730.4 L1368.9,736.5 L1369.7,722.2 L1370.9,721.2 L1371.2,720.8 L1371.8,606.2 L1372.3,502.1 L1372.8,473.4 L1373.9,502.1 L1374.9,528.1 L1375.7,554.2 L1376.2,585.4 L1377,608.9 L1378,616.7 L1379.6,612.8 L1380.6,601 L1382.2,591.9 L1383.8,588.5 L1384.5,595.8 L1385.1,684.4 L1385.3,709.9 L1385.2,836.5 L1386.8,836.9 L1388.1,840.6 L1389.3,848.7 L1390.5,861 L1391.7,866.1 L1392.9,867.1 L1393.8,889.5 L1395,891.6 L1395.8,903.8 L1397,905.4 L1398.3,904.8 L1399.5,900.7 L1401.1,899.7 L1402.3,897.7 L1403.6,895.6 L1404.8,893.6 L1405.6,895.6 L1406.8,891.6 L1408,892.6 L1409.3,890.5 L1410,890.5 L1411.6,891.6 L1412.9,892.6 L1414.1,889.5 L1414.9,881.8 L1416.1,883.4 L1417.3,887.5 L1418.6,888.5 L1420.2,890.5 L1421.8,892.6 L1423.1,891.6 L1424.3,894.6 L1425.5,893.6 L1426.7,896.7 L1428,901.8 L1429.6,899.7 L1431.2,900.7 L1432.8,900.1 L1434.1,894.6 L1434.9,895.2 L1435.7,901.8 L1436.9,899.7 L1438.2,902.8 L1439.4,905.8 L1441,907.9 L1442.6,909.9 L1444.3,910.9 L1445.9,914 L1447.1,918.1 L1448.4,914 L1449.6,912 L1450.8,911.6 L1452.4,910.9 L1453.7,905.8 L1454.5,902.8 L1456.1,903.4 L1457.7,902.8 L1459.4,903.4 L1460.6,902.8 L1461.8,907.9 L1463,908.9 L1464.3,903.8 L1465.5,904.8 L1466.7,908.9 L1467.9,906.9 L1469.2,903.8 L1470.4,900.7 L1471.6,899.7 L1472.8,899.3 L1473.6,875.2 L1474.9,871.2 L1476.1,867.1 L1476.9,859.9 L1478.1,858.9 L1479,852.8 L1479.8,838.5 L1481,837.5 L1482.2,840.6 L1483.4,835.5 L1484.7,834.4 L1485.5,836.5 L1486.3,852.8 L1487.1,861 L1488.3,867.1 L1489.2,873.2 L1490,879.3 L1491.2,883.4 L1492,893.6 L1493.2,900.7 L1494.5,901.8 L1495.7,901.4 L1496.9,905.8 L1498.1,907.9 L1499.4,906.2 L1500.6,907.5 L1502.2,909.9 L1503.8,913 L1505.5,916 L1507.1,919.1 L1508.7,922.2 L1510,919.1 L1511.2,917.1 L1512.8,915 L1514.4,914 L1516.1,913.6 L1517.7,913 L1519.3,913.6 L1521,913 L1522.2,916 L1523.4,914 L1524.6,917.1 L1526.3,916 L1527.9,917.7 L1528.7,914 L1529.5,905.8 L1530.8,901.8 L1532,898.7 L1533.2,899.7 L1534.4,895.6 L1535.7,891.6 L1536.9,889.5 L1537.7,879.3 L1538.9,873.2 L1539.7,865 L1540.6,852.8 L1541.2,843.6 L1542.2,850.8 L1543.4,853.8 L1544.6,856.9 L1545.9,858.5 L1546.7,856.9 L1547.5,865 L1548.7,868.1 L1549.9,871.2 L1550.8,881.4 L1552,883.4 L1552.8,897.7 L1553.6,914 L1554.8,916 L1556.5,913 L1558.1,910.9 L1559.3,903.8 L1560.6,900.7 L1561.8,901.8 L1563.4,901.4 L1565,902.2 L1565.9,896.7 L1567.1,900.7 L1568.3,901.4 L1569.1,893.6 L1569.9,879.3 L1571.2,867.1 L1572.4,866.1 L1573.6,866.7 L1574.8,865 L1576.1,864 L1576.9,852.8 L1577.3,843.6 L1578.5,844.6 L1579.7,846.7 L1581,845.7 L1581.8,850.8 L1582.6,869.1 L1583.4,883.4 L1584.6,890.5 L1585.8,891.6 L1587.1,894.6 L1588.3,893.6 L1589.1,903.8 L1589.5,913 L1590.7,907.9 L1592.4,905.8 L1594,903.8 L1595.6,902.8 L1597.3,900.7 L1598.9,898.7 L1600.1,896.7 L1601.4,891.6 L1602.6,885.4 L1603.8,879.3 L1605,875.2 L1606.2,877.3 L1607.5,878.3 L1608.7,879.3 L1609.9,881.4 L1611.1,883.4 L1612.4,887.5 L1613.6,891.6 L1614.4,901.8 L1615.2,905.8 L1616,893.6 L1616.9,894.6 L1617.7,901.8 L1619.3,900.7 L1620.9,901.8 L1622.6,901.4 L1624.2,900.7 L1625.4,899.3 L1626.6,899.7 L1627.5,903.8 L1628.3,914 L1629.5,915 L1630.3,907.9 L1632,908.3 L1633.6,907.5 L1635.2,907.9 L1636.4,906.9 L1637.7,910.9 L1638.5,915 L1639.7,906.9 L1640.9,907.5 L1642.2,906.2 L1643,913 L1644.6,913 L1645.4,912 L1645.8,873.2 L1646.2,845.7 L1647.5,842.6 L1648.7,840.6 L1649.9,837.5 L1650.7,834 L1651.9,839.5 L1653.2,838.5 L1654.4,841.6 L1655.6,840.6 L1656.8,838.9 L1657.7,838.1 L1658.1,873.2 L1658.5,905.8 L1659.7,906.2 L1660.5,895.6 L1661.3,894.6 L1662.1,897.7 L1663,904.8 L1663.8,883.4 L1664.6,867.1 L1665.8,848.7 L1666.6,836.5 L1667.9,834.4 L1668.7,834 L1669.5,824.2 L1670.3,810 L1671.1,803.8 L1671.9,802.2 L1672.7,806.9 L1673.6,803.8 L1674.4,791.6 L1675.2,787.5 L1676,795.7 L1676.8,812 L1677.6,826.3 L1678.5,840.6 L1679.3,852.8 L1680.5,855.9 L1681.7,856.9 L1682.5,869.1 L1683.4,878.3 L1684.6,882.4 L1685.4,874.2 L1686.2,875.2 L1687,892.6 L1687.8,885.4 L1688.3,832.4 L1688.7,781.4 L1689.9,775.3 L1691.1,769.2 L1691.9,759 L1692.7,747.7 L1694,750.8 L1695.2,753.9 L1696,754.9 L1696.8,740.6 L1697.6,730.4 L1698.2,716.1 L1698.4,670.9 L1698.7,600.6 L1698.9,572.5 L1699.8,569 L1700.5,577.2 L1701,600.6 L1701.7,628.7 L1702.2,665.1 L1702.9,635.8 L1703.6,633.4 L1704.5,638.1 L1705.2,649.8 L1705.9,648.7 L1706.9,652.2 L1708.3,655.7 L1709.2,670.9 L1710.2,678 L1710.9,680.3 L1711.1,825.6 L1711.6,825.6 L1712.3,680.3 L1713.4,642.8 L1714.4,633.9 L1715.3,634.6 L1716.2,641.6 L1717.7,640.5 L1719.1,641.6 L1720.5,637.6 L1721.4,636.9 L1722.3,647.5 L1723.3,661.5 L1723.7,694.4 L1724,710.1 L1724,763.8 L1724.7,819.1 L1725.5,823.4 L1726.2,859.5 L1727,891.4 L1727.9,904.2 L1729.1,905.2 L1730.4,899.9 L1731.7,901 L1733,902 L1734.2,895.7 L1735.5,886.1 L1736.8,885 L1738.1,886.7 L1739.3,886.1 L1740.2,881.2 L1741,886.1 L1742.3,885 L1743.2,880.8 L1744.4,873.3 L1745.7,872.3 L1747,875.5 L1748.3,880.8 L1749.5,885 L1750.8,889.3 L1752.1,888.2 L1753.4,893.5 L1754.7,895.7 L1756.4,901 L1757.2,887.2 L1758.5,885 L1759.8,886.1 L1760.6,879.7 L1761.9,874.4 L1763.2,873.3 L1764.4,870.1 L1765.7,863.8 L1766.6,864.8 L1767.4,855.3 L1768.3,852.7 L1769.1,861.6 L1769.5,875.5 L1770.8,873.3 L1771.7,870.1 L1772.1,827.6 L1772.5,796.8 L1773.8,793.6 L1775.1,791.9 L1776.3,793.6 L1777.6,798.9 L1778.5,806.3 L1779.7,812.7 L1781,819.1 L1781.9,802.1 L1782.7,797.8 L1783.6,804.2 L1784.4,803.1 L1785.1,827.6 L1785.5,887.2 L1786.8,892.5 L1787.8,870.1 L1788.5,827.6 L1789.1,806.3 L1790,785.1 L1790.8,765.9 L1792.1,763.8 L1793.4,761.7 L1793.8,748.9 L1794.6,760.6 L1795.5,759.5 L1796.3,721.3 L1797,700 L1796.9,685 L1797.8,659.2 L1798.7,647.5 L1799.7,642.3 L1800.1,659.2 L1800.6,685 L1801.3,696.7 L1802,686.2 L1802.5,711.9 L1803.4,670.9 L1804.1,624 L1804.8,607.6 L1805.8,621.7 L1806.5,586.6 L1807.6,580.7 L1808.3,591.2 L1809.1,567.8 L1810,563.1 L1810.5,577.2 L1811.2,546.7 L1812.3,543.2 L1812.8,483.4 L1813.5,474.5 L1814.2,483.4 L1815.1,482.3 L1815.8,495.2 L1816.6,511.6 L1817,563.1 L1818,560.8 L1818.7,577.2 L1819.4,586.6 L1820.3,583 L1821.2,600.6 L1821.7,642.8 L1822.6,661.5 L1823.6,682.6 L1824.5,700 L1824.4,712.8 L1825.3,742.5 L1826.1,785.1 L1827.4,800 L1828.2,808.5 L1828.7,827.6 L1829.3,814.8 L1829.7,815.9" fill="none" stroke="#ec1a3a" stroke-width="1.3" stroke-linejoin="round"/>
<line x1="213.5" x2="213.5" y1="234" y2="937" stroke="#ec1a3a" stroke-width="1.6"/>
<use href="#gl" stroke="#000" fill="#000" opacity="0.068" transform="translate(572.5,484) scale(3.62) translate(-1743.7,-1069.2)"/>
<path d="M219.2,792.1 L219.8,774.9 L220.9,637.5 L221.3,637.5 L222.4,750 L223.2,790.1 L224,806.2 L226,814.6 L227.1,799.1 L228.2,809 L229.6,803.4 L231.6,811.8 L234.4,814.6 L235.8,823.1 L236.7,854.1 L238.4,837.2 L240.3,842.8 L241.7,833 L243.7,842.8 L245.7,859.8 L248,869.6 L248.8,857 L250.8,852.7 L252.5,865.4 L255,868.2 L257.8,866.8 L260.1,865.4 L262.1,868.2 L264.3,876.7 L266.3,886.6 L267.4,906.3 L268.5,885.2 L270.5,879.5 L271.7,851.3 L272.8,868.2 L273.9,871.1 L275.6,868.2 L277.6,865.4 L279,851.3 L280.7,831.6 L282.1,837.2 L283.8,828.2 L285.5,837.2 L286.9,845.7 L288.3,859.8 L290.3,865.4 L292,864 L293.4,871.1 L295.1,859.8 L296.8,865.4 L298.7,857 L300.1,855.5 L301.6,865.4 L303.8,868.2 L305.8,878.1 L307.5,869.6 L309.4,871.1 L311.4,868.8 L313.4,871.1 L315.7,873.9 L317.9,878.1 L319.9,888 L321.3,904.9 L322.4,897.9 L323.6,916.2 L325.2,910.6 L326.9,906.3 L328.6,919 L330.3,923.2 L332.6,926.1 L334.6,908.3 L335.7,924.7 L337.7,928.9 L339.6,931.7 L341.6,928.9 L343.9,933.1 L345.8,935.4 L347.2,919 L348.7,885.2 L349.5,858.9 L350.9,858.4 L351.8,895 L353.2,890.8 L354.6,885.2 L356,895 L357.4,892.2 L359.4,896.4 L362.2,897.9 L364.2,904.9 L365.6,913.4 L367.8,912.8 L369,895 L370.1,883.8 L371.5,880.9 L372.9,865.4 L374.3,869.6 L376,859.8 L377.7,868.2 L379.7,865.4 L381.9,868.2 L384.2,871.1 L386.2,857.8 L388.2,866.8 L390.4,862 L392.4,868.2 L394.1,873.9 L396.1,878.1 L397.5,892.2 L398.9,897.9 L401.3,879.5 L403.3,873.9 L405,882.3 L406.9,886.6 L409.2,889.4 L411.2,893.6 L413.4,895 L415.4,899.3 L417.4,905.5 L419.3,899.3 L421.6,902.1 L423.3,899.3 L424.4,873.3 L425.8,897.9 L427.5,880.9 L429.5,883.8 L431.5,882.3 L433.2,886.6 L435.1,888 L437.4,885.2 L439.4,889.4 L441.6,892.2 L443.6,905.5 L445.3,888 L447.3,892.2 L449.2,893.1 L451.5,893.6 L453.5,895 L455.4,892.2 L457.1,896.4 L459.1,897.9 L461.1,897.9 L461.9,857 L463.3,883.8 L464.8,879.5 L466.2,859.8 L467.3,849.9 L468.4,865.4 L469.8,875.3 L471.8,871.1 L473.5,868.2 L475.2,858.4 L476.6,851.9 L478,859.8 L479.4,868.8 L480.8,864 L483.1,862.6 L485.1,864.9 L487.3,868.2 L488.7,875.3 L490.1,883.8 L492.1,885.2 L493.8,889.4 L495.2,878.1 L497.2,883.8 L499.4,886.6 L501.4,893.6 L503.7,888 L505.7,892.2 L507.9,888 L509.9,882.3 L511.9,885.2 L514.1,883.8 L516.1,888 L518.3,886.6 L520.3,890.8 L522.6,892.2 L524,903.5 L526,897.9 L528.2,907.2 L529.6,889.4 L531,883.8 L532.7,893.6 L534.7,896.4 L536.1,879.5 L537,830.2 L538.1,857 L539.5,845.7 L540.4,817.5 L541.2,761 L541.5,656.1 L542.3,723 L543.7,710.3 L545.7,717.3 L547.1,718.7 L548.5,730.6 L549.9,718.7 L551.4,714.5 L552.2,676.4 L553.6,665.1 L554.5,620 L554.8,609.3 L555.7,566.9 L556.2,541.6 L557.6,530.3 L558.5,496.4 L559.6,473.3 L561,490.8 L561.9,524.6 L563.3,499.2 L564.4,537.3 L565.8,488 L567.2,500.6 L568.6,506.3 L570.1,516.2 L571.5,511.9 L572.9,489.4 L574.3,507.7 L575.7,516.2 L577.1,506.3 L578.5,514.8 L579.9,516.2 L581.3,535.9 L582.5,547.2 L583.6,569.2 L585,541.6 L586.4,550 L587.8,557.1 L589.2,552.8 L590.6,543 L592.1,541.6 L593.5,555.7 L595.4,561.3 L597.1,564.7 L598.3,538.7 L599.4,517.6 L600.5,527.4 L601.7,513.3 L602.8,534.5 L603.9,524.6 L605.3,533.1 L606.7,537.3 L607.6,555.1 L609,550 L610.4,554.2 L611.8,547.2 L613.2,537.3 L614.6,535.9 L616,521.8 L617.4,504.3 L618.9,510.5 L620.3,511.9 L621.7,527.4 L623.1,534.5 L624.5,538.7 L625.9,535.9 L627.3,540.1 L628.7,533.1 L630.1,531.7 L631.6,539.3 L633,524.6 L634.9,521.8 L636.6,516.2 L637.8,497.8 L638.9,513.3 L640,516.2 L641.1,535.9 L642.3,520.4 L643.4,479.5 L644.2,440 L645.4,408 L646.2,362.8 L647.6,376.9 L648.8,360 L649.6,307.8 L651,300.8 L651.9,272 L653.9,271.2 L654.7,300.8 L656.1,306.4 L657.2,358.6 L658.4,329 L659.5,348.7 L660.9,340.3 L662.3,338.9 L663.7,368.5 L665.1,413 L666.5,374.1 L668,368.5 L669.4,358.6 L670.8,355.8 L672.2,382.6 L674.2,384.8 L675.9,374.1 L677.3,386.8 L679.2,398.1 L680.9,408 L682.6,405.1 L684.3,419.3 L686.3,443.2 L687.7,448.9 L690,447.5 L691.4,422.1 L692.8,419.3 L693.9,413.6 L695,382.6 L696.7,382 L698.1,396.7 L699.5,388.2 L701.2,385.4 L702.7,399.5 L704.1,412.2 L706,416.4 L707.4,410.8 L708.9,424.9 L710.3,434.8 L711.7,419.3 L713.1,412.2 L714.8,415 L716.2,433.4 L717.6,439 L719.3,436.2 L720.7,447.5 L722.4,455.9 L724.4,448.9 L726.6,447.5 L728.3,458.7 L730,444.6 L731.4,454.5 L733.4,453.1 L735.7,457.3 L737.6,461.6 L739,475.7 L739.9,489.8 L741.3,506.1 L742.7,477.1 L744.1,491.2 L745.8,487 L747.5,481.3 L749.2,484.1 L750.6,505.3 L752.6,510.9 L754.8,506.7 L756,484.1 L757.1,433.4 L758.2,431.9 L759.4,444.6 L760.5,430 L761.9,441.8 L763.3,447.5 L764.7,472.8 L766.1,451.7 L768.1,451.7 L770.1,457.3 L772.3,458.2 L773.7,453.1 L775.1,435.6 L776.6,444.6 L778,450.3 L779.7,443.2 L780.8,458.7 L782.2,470 L783.6,479.9 L785.6,475.7 L787,489.8 L788.4,498.2 L790.4,503.3 L792.1,484.1 L794,467.2 L795.5,484.1 L797.2,475.7 L798.8,481.3 L800.5,475.7 L801.9,488.4 L803.9,491.2 L806.2,492.6 L808.2,489.8 L809.6,501.6 L811.8,495.4 L813.2,499.6 L815.2,492.6 L817.5,494 L818.9,487 L819.9,495.7 L821.8,491.4 L824.1,494.2 L826.4,491.4 L828.6,491.4 L830.9,495.7 L833.1,494.2 L834.8,478.7 L836.5,477.3 L838.2,485.8 L839.9,487.2 L841.6,491.4 L843.3,500.7 L845.3,494.2 L847.2,494.2 L848.9,498.5 L850.3,473.1 L851.2,453.9 L852.3,464.6 L853.7,474.5 L855.1,464.6 L856.3,456.2 L858,457.6 L859.4,464.6 L860.8,470.3 L862.5,464.6 L864.2,457.6 L865.6,461.8 L867,450 L868.4,461.8 L869.8,468.9 L871.5,470.3 L873.2,468.9 L874.3,487.2 L875.7,498.5 L877.1,487.2 L879.1,491.4 L881.1,492.8 L882.8,490 L884.5,492.8 L886.2,501.3 L887.9,511.2 L889.5,504.1 L891.2,508.3 L893.2,512.6 L895.2,514 L897.4,512.6 L899.7,511.2 L901.4,492.8 L902.8,509.8 L904.2,522.5 L905.9,518.2 L907.6,512.6 L909.3,505.5 L911,501.3 L912.7,497.1 L914.4,504.1 L916.1,498.5 L917.8,495.7 L919.4,498.5 L921.1,494.2 L922.8,504.1 L924.5,508.3 L926.2,512.6 L927.9,523.9 L929.6,528.1 L931.3,525.3 L933,530.9 L934.4,524.4 L936.1,529.5 L937.5,547 L939.2,540.8 L940.9,545 L942.6,540.8 L944.3,543.6 L946,528.1 L947.7,532.3 L949.4,519.6 L951,526.7 L952.7,528.1 L954.4,521 L956.1,518.2 L957.8,506.9 L959.5,501.3 L960.9,485.8 L962.3,502.7 L964,501.3 L965.7,525.3 L967.4,521 L969.1,517.7 L970.2,526.7 L971.1,533.7 L971.9,574.6 L973.6,571.8 L974.7,557.7 L976.4,563.4 L978.1,552.1 L979.8,549.3 L981.5,546.4 L983.2,538 L984.9,543.6 L986.6,547.8 L988.3,545 L990,536.6 L991.7,526.1 L993.4,529.5 L995,530.9 L996.7,542.2 L998.4,538 L1000.4,540.8 L1002.4,536.6 L1004.6,533.7 L1006.6,538 L1008.9,539.4 L1011.3,545.3 L1013.3,548.1 L1015.5,552.3 L1017.5,550.9 L1019.2,535.4 L1020.9,539.6 L1022.6,541.1 L1024.5,538.2 L1026.2,529.8 L1027.6,518.5 L1029.1,498.7 L1030.2,493.1 L1031.9,501.6 L1033.3,500.2 L1035,491.7 L1036.7,501.6 L1038.4,508.6 L1040.1,504.4 L1041.5,498.7 L1042.9,515.7 L1044.6,521.3 L1046.5,515.7 L1048.5,517.1 L1049.9,528.4 L1051.6,519.9 L1053.6,521.3 L1055.6,515.7 L1057.5,513.4 L1059.2,517.1 L1061.2,512.8 L1063.2,515.7 L1064.9,519.9 L1066.9,521.3 L1068.5,512.8 L1070.5,510 L1072.2,498.7 L1073.3,473.4 L1074.2,436.7 L1075,411.9 L1076.2,425.4 L1077.3,433.9 L1078.4,418.3 L1079.8,424 L1081.2,435.3 L1082.4,428.8 L1083.5,452.2 L1084.9,428.8 L1086,470.5 L1087.2,512.8 L1088.3,501.6 L1089.4,532.6 L1090.8,521.3 L1092.2,498.7 L1093.7,488.9 L1095.1,497.3 L1096.5,500.2 L1097.9,507.2 L1099.3,505.8 L1100.7,515.7 L1101.8,493.1 L1102.7,449.4 L1103.5,446.6 L1104.4,474.8 L1105.5,448 L1106.6,436.7 L1107.5,421.2 L1108.6,428.2 L1109.7,436.7 L1110.9,431 L1112,456.4 L1113.4,464.3 L1114.8,456.4 L1116.2,448 L1117.9,453.6 L1119.6,459.3 L1121.3,448 L1123,436.7 L1124.7,432.5 L1126.4,429.6 L1127.5,415.5 L1128.3,377.4 L1129.2,357.7 L1130,332.3 L1131.2,312 L1132.3,321 L1133.4,346.4 L1134.6,332.3 L1135.7,370.4 L1136.8,338 L1137.9,322.4 L1139.1,329.5 L1140.2,342.2 L1141.3,323.9 L1142.5,349.2 L1143.6,330.9 L1144.7,326.1 L1145.8,363.3 L1147,397.2 L1148.4,385.9 L1149.5,370.4 L1150.9,369.5 L1152,385.9 L1153.2,378.9 L1154.6,385.9 L1156,388.7 L1157.4,402.8 L1158.3,422.6 L1159.4,436.7 L1160.8,414.1 L1162.5,409.9 L1164.2,416.9 L1165.9,421.2 L1167.6,419.8 L1169,431 L1170.1,439.5 L1171.2,426.8 L1172.6,418.3 L1174,404.2 L1175.7,408.5 L1177.2,401.4 L1178.6,385.9 L1179.7,363.3 L1180.8,349.2 L1182.2,350.6 L1183.6,366.2 L1185,352.1 L1186.5,364.8 L1187.9,354.9 L1189.3,340.8 L1190.4,366.2 L1191.8,367.6 L1193.5,363.3 L1194.9,388.7 L1196.6,385.9 L1198,385.9 L1199.2,366.2 L1200.7,366.2 L1202.4,359.1 L1204.1,363.3 L1205.8,360.5 L1207.5,366.2 L1209.2,374.6 L1210.9,361.9 L1212.6,360.5 L1214.3,349.2 L1216,356.3 L1217.6,364.8 L1219.3,366.2 L1221,373.2 L1222.7,371.8 L1224.4,383.1 L1226.1,396.6 L1227.8,398.6 L1229.5,395.8 L1231.2,385.9 L1232.6,374.6 L1234,387.3 L1235.7,388.7 L1237.4,397.2 L1239.1,402.8 L1240.8,398.6 L1242.5,402.8 L1243.9,415.5 L1245.3,426.8 L1247,426.8 L1248.7,425.4 L1250.1,408.5 L1251.5,388.7 L1252.9,390.1 L1254.3,397.2 L1255.7,394.4 L1257.1,411.3 L1258.8,402.8 L1260.5,407.1 L1262.2,404.2 L1263.9,398.6 L1265.6,397.2 L1267.3,394.4 L1269,391.6 L1270.7,390.1 L1272.4,391.6 L1274.1,397.2 L1275.8,411.3 L1277.4,402.8 L1279.1,398.6 L1280.8,408.5 L1282.5,418.3 L1284.2,428.2 L1285.9,419.2 L1287.3,442.3 L1288.7,471.9 L1290.4,456.4 L1292.1,464.9 L1293.8,462.1 L1295.5,471.9 L1297.2,464.9 L1298.9,467.7 L1300.3,473.4 L1301.7,493.7 L1303.4,494.5 L1304.8,484.6 L1306.2,476.2 L1307.9,481.8 L1309.6,492.5 L1311.3,484.6 L1313,491.7 L1314.7,481.8 L1316.4,476.2 L1318.1,484.6 L1319.8,471.9 L1321.5,470.5 L1323.1,476.2 L1324.8,473.4 L1326.5,473.4 L1328.2,474.8 L1329.9,484.6 L1331.6,488.9 L1333.3,484.6 L1335,490.3 L1336.7,488.9 L1338.4,479 L1340.1,484.6 L1341.8,464.9 L1343.2,443.7 L1344.6,456.4 L1346,448 L1347.4,444.6 L1349.1,438.7 L1350.8,452.2 L1352.5,450.2 L1354.2,456.4 L1355.9,453.6 L1357.6,455 L1359.3,444.6 L1360.7,459.3 L1361.8,486.1 L1363.2,473.4 L1364.9,477.6 L1366.6,467.7 L1368.3,466.3 L1370,470.5 L1371.7,473.4 L1373.4,469.1 L1375,470.5 L1376.7,483.2 L1378.4,484.6 L1380.1,476.2 L1381.8,483.2 L1383.5,484.6 L1385.2,481.8 L1386.9,473.4 L1388.6,470.5 L1390,462.1 L1392.4,466.3 L1394.1,464.9 L1395.8,469.1 L1397.5,467.7 L1399.2,476.2 L1400.9,469.1 L1402.6,470.5 L1404.3,474.8 L1406,471.9 L1407.6,476.2 L1409.3,473.4 L1411,478.4 L1412.7,476.2 L1413.9,464.9 L1414.7,450.8 L1415.8,452.2 L1417,436.7 L1418.4,439.5 L1420.1,444.6 L1421.7,442.3 L1423.4,440.9 L1425.1,439.5 L1426.3,448 L1427.4,456.4 L1429.1,450.2 L1430.8,452.2 L1432.5,456.4 L1434.2,462.6 L1435.9,460.7 L1437.5,452.2 L1439.2,451.4 L1440.9,453.6 L1442.3,440.9 L1443.8,439.5 L1445.4,437.2 L1447.1,439.5 L1448.5,450.2 L1450.2,445.1 L1451.9,446.6 L1453.6,452.2 L1455.3,449.4 L1457,453 L1459,451.4 L1459.8,422.6 L1460.4,394.9 L1462.4,394.9 L1463.5,408.5 L1464.6,410.7 L1466.9,409 L1468.3,420.3 L1469.7,422.6 L1471.4,419.8 L1473.1,421.2 L1474.2,443.7 L1475.9,442.3 L1477.6,438.1 L1479.3,444.6 L1481,443.7 L1482.7,448 L1484.1,450.8 L1485.5,446.6 L1487.2,442.3 L1488.9,444.6 L1490.6,440.9 L1492,444.6 L1493.4,437.2 L1494.8,443.7 L1496.2,449.4 L1497.9,448.5 L1499.6,443.7 L1501.3,433.9 L1502.7,436.7 L1504.1,426.8 L1505.5,422.6 L1506.7,407.1 L1507.8,414.1 L1509.2,421.2 L1510.3,419.8 L1512,430.2 L1513.7,424 L1515.4,425.4 L1517.1,422.6 L1518.8,414.1 L1520.2,421.2 L1521.9,422.6 L1523.6,424 L1525.3,425.4 L1526.7,418.3 L1528.4,421.2 L1530.1,428.2 L1531.8,433.9 L1533.2,426.8 L1534.9,431 L1536.6,436.7 L1538.3,440.9 L1539.9,443.7 L1541.6,445.1 L1543.6,443.7 L1545.3,439.5 L1547,433.3 L1548.7,432.5 L1550.4,438.1 L1552.1,428.2 L1553.5,419.2 L1554.9,428.2 L1556,422.6 L1556.9,406.2 L1558,419.8 L1559.4,428.8 L1560.8,420.3 L1562.2,418.3 L1563.6,428.2 L1565,421.2 L1566.5,425.4 L1568.2,422.6 L1569.3,431 L1570.1,450.2 L1571.5,443.7 L1573.2,434.4 L1574.6,442.3 L1576.3,445.1 L1578,438.1 L1581.7,444.4 L1583.1,441 L1584.4,438.8 L1585.8,436.5 L1587.2,439.9 L1588.5,438.8 L1589.9,442.1 L1591.2,441 L1592.6,447.8 L1593.9,446.7 L1595.3,451.2 L1596.6,443.3 L1598,448.9 L1599.3,452.3 L1600.7,447.8 L1602,450 L1603.4,461.3 L1604.5,463.6 L1605.7,451.2 L1606.6,439.9 L1607.5,423 L1608.4,421.8 L1609.5,434.2 L1610.6,423 L1612,421.8 L1613.3,424.1 L1614.5,423 L1615.6,446.7 L1616.7,447.8 L1617.6,423 L1618.7,429.7 L1620.1,432 L1621.5,425.2 L1622.8,424.1 L1624.2,429.7 L1625.5,433.1 L1626.9,432 L1628.2,438.8 L1629.4,442.1 L1630.5,437.6 L1631.8,428.6 L1633.2,426.3 L1634.5,429.7 L1635.9,426.3 L1637.3,419.6 L1638.4,426.3 L1639.5,441 L1640.9,441 L1642.2,436.5 L1643.6,435.4 L1644.9,436.5 L1646.3,435.4 L1647.6,439.9 L1648.8,445.5 L1649.9,441 L1651.2,442.1 L1652.6,444.4 L1653.5,434.2 L1654.4,424.1 L1655.3,406 L1656,383.5 L1656.7,363.2 L1657.6,365.4 L1658.5,347.4 L1659.1,334.9 L1660.3,340.6 L1661.2,324.8 L1661.9,297.7 L1662.5,272.9 L1663.4,275.1 L1664.3,294.3 L1665.2,277.4 L1666.1,294.3 L1667,290.9 L1667.9,278.5 L1668.8,277.4 L1669.8,289.8 L1670.9,287.5 L1672,296.6 L1673.1,289.8 L1674.3,302.2 L1675.2,296.6 L1676.1,283 L1677,284.2 L1677.9,292.1 L1678.8,288.7 L1679.7,277.4 L1680.6,257.1 L1681.5,252.6 L1682.4,254.4 L1683.3,260.5 L1684.2,263.9 L1685.1,258.2 L1686,257.1 L1686.9,259.3 L1687.8,276.3 L1688.9,285.3 L1689.8,289.1 L1690.7,283 L1691.9,271.8 L1693,270.6 L1694.1,278.5 L1695,270.6 L1695.9,290.9 L1696.8,295.4 L1697.7,296.6 L1698.6,280.8 L1699.3,263.9 L1700.2,278.5 L1701.1,292.1 L1702,303.3 L1702.9,292.1 L1703.8,278.5 L1704.7,290.9 L1705.6,285.3 L1706.5,278.5 L1707.4,288.7 L1708.3,283 L1709.2,288.7 L1710.4,300 L1711.7,301.1 L1712.6,309 L1713.5,315.8 L1714.4,307.9 L1715.6,300 L1716.9,298.8 L1718.3,295.4 L1719.6,290.9 L1720.8,296.6 L1722.1,289.8 L1723.5,295.4 L1724.8,293.2 L1725.9,280.8 L1727.1,283 L1728.2,277.8 L1729.3,287.5 L1730.5,284.2 L1731.6,284.2 L1732.7,289.8 L1733.8,287.5 L1735,295.4 L1736.1,297.7 L1737.2,292.1 L1738.4,295.4 L1739.5,288.7 L1740.6,292.1 L1741.7,296.6 L1742.9,293.2 L1744,303.3 L1745.1,297.7 L1746.5,294.3 L1747.8,293.2 L1749.2,290.9 L1750.3,285.3 L1751.4,275.1 L1752.4,267.2 L1753.3,258.2 L1754.2,249.2 L1755.1,246.2 L1756,245.8 L1756.9,259.3 L1757.8,253.7 L1758.7,259.3 L1759.8,258.2 L1760.9,271.8 L1761.8,261.6 L1762.7,252.6 L1763.6,259.3 L1764.5,253.7 L1765.4,261.6 L1766.3,258.2 L1767.2,268.4 L1768.1,260.5 L1769.1,265 L1770.2,261.6 L1771.3,269.5 L1772.7,271.8 L1774,269.5 L1775.1,266.1 L1776.3,260.5 L1777.4,258.9 L1778.5,263.9 L1779.7,260.5 L1780.8,269.5 L1781.9,265 L1783,271.8 L1783.9,263.9 L1784.8,262.7 L1786,260.5 L1787.1,265 L1788,277.4 L1788.9,286.4 L1789.8,283 L1790.7,289.8 L1791.6,280.8 L1792.5,285.3 L1793.4,279.7 L1794.3,275.1 L1795.2,281.9 L1796.4,284.2 L1797.5,294.3 L1798.4,289.8 L1799.3,283 L1800.2,279.7 L1801.1,288.7 L1802,292.1 L1802.9,296.6 L1803.8,293.2 L1804.9,306.7 L1806.1,295.4 L1807.2,297.7 L1808.3,294.3 L1809.7,300 L1810.8,294.3 L1811.9,302.2 L1813.1,298.8 L1814.2,306.7 L1815.3,314.6 L1816.4,309 L1817.6,313.5 L1818.7,310.1 L1820.1,312.4 L1821.2,309 L1822.1,297.7 L1822.8,287.5 L1823.7,289.8 L1824.6,300 L1825.5,295.4 L1826.4,297.7 L1827.3,301.1 L1828.4,304.5 L1829.5,309" fill="none" stroke="#000" stroke-width="3.3" stroke-linejoin="round" stroke-linecap="round"/>
<line x1="1835.8" x2="1835.8" y1="234" y2="937" stroke="#111" stroke-width="1.4"/>
<rect x="1705.1" y="299.5" width="47.2" height="15.7" fill="none" stroke="#1535f0" stroke-width="2.7"/>
<ellipse cx="1811.5" cy="312.4" rx="16.2" ry="9.6" fill="none" stroke="#1535f0" stroke-width="2.7"/>
<use href="#gl" stroke="#1a1a1a" fill="#1a1a1a"/>
<text x="51" y="1101" font-size="25" fill="#808080" textLength="458" lengthAdjust="spacingAndGlyphs">© 2026 Glassnode. All Rights Reserved.</text>
</svg>
</body></html>
